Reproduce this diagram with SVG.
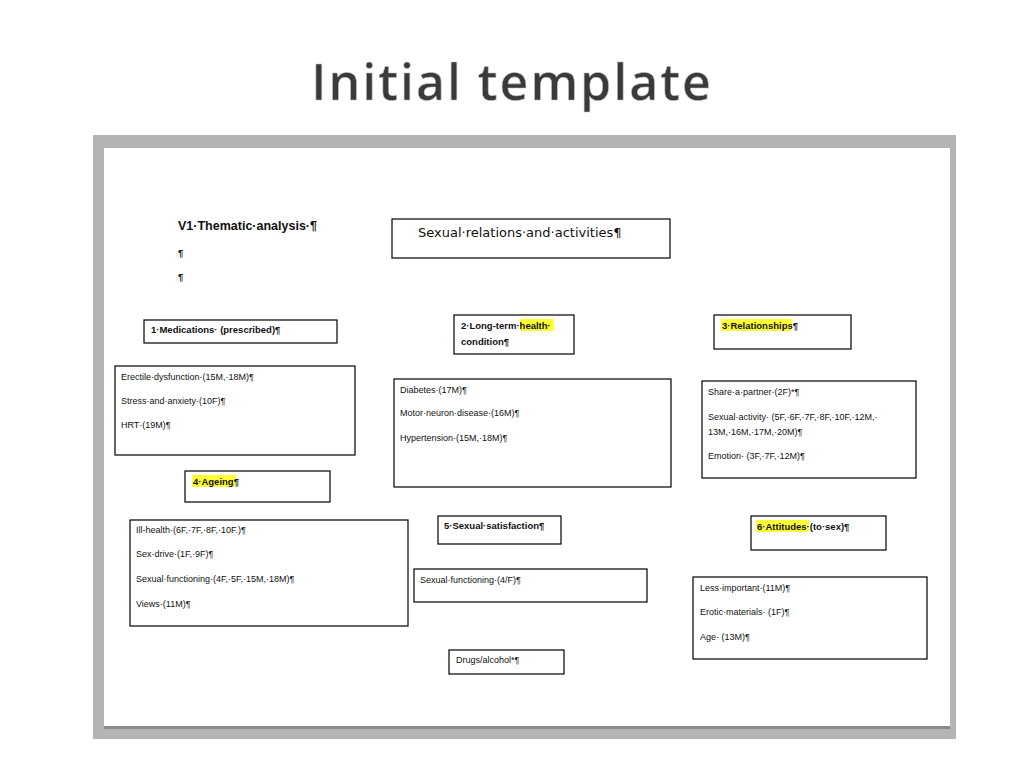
<svg xmlns="http://www.w3.org/2000/svg" width="1024" height="768" viewBox="0 0 1024 768">
<style>
.b{fill:#fff;stroke:#000;stroke-width:1.2}
.t{font-family:"Liberation Sans",Arial,sans-serif;font-size:9px;fill:#111}
.h{font-family:"Liberation Sans",Arial,sans-serif;font-size:9.5px;font-weight:bold;fill:#111}
.hl{fill:#ffff33}
</style>
<rect width="1024" height="768" fill="#fff"/>
<text x="512" y="100" text-anchor="middle" font-family="'Open Sans','DejaVu Sans',sans-serif" font-size="50" font-weight="600" fill="#3a3a3a" letter-spacing="2" stroke="#bbb" stroke-width="0.6">Initial template</text>
<rect x="93" y="135" width="863" height="604" fill="#b4b4b4"/>
<rect x="104" y="148" width="846" height="578" fill="#fff"/>
<rect x="104" y="726" width="846" height="3" fill="#8a8a8a"/>
<g id="header">
<text x="178" y="230" font-family="'Liberation Sans',Arial,sans-serif" font-size="12.5" font-weight="bold" fill="#111">V1·Thematic·analysis·¶</text>
<text x="178" y="256" class="h">¶</text>
<text x="178" y="280" class="h">¶</text>
</g>
<g id="connectors"></g>
<g id="title"><rect class="b" x="392" y="219" width="278" height="39"/><text x="418" y="237" font-family="'DejaVu Sans',sans-serif" font-size="13" fill="#111">Sexual·relations·and·activities¶</text></g>
<g id="n1"><rect class="b" x="144" y="320" width="193" height="23"/><text x="151" y="333" class="h">1·Medications· (prescribed)¶</text></g>
<g id="l1"><rect class="b" x="115" y="366" width="240" height="89"/>
<text x="121" y="380" class="t">Erectile·dysfunction·(15M,·18M)¶</text>
<text x="121" y="404" class="t">Stress·and·anxiety·(10F)¶</text>
<text x="121" y="428" class="t">HRT·(19M)¶</text></g>
<g id="n2"><rect class="b" x="454" y="315" width="120" height="39"/><rect class="hl" x="520" y="319" width="34" height="12"/><text x="461" y="329" class="h">2·Long-term·health·</text><text x="461" y="345" class="h">condition¶</text></g>
<g id="l2"><rect class="b" x="394" y="379" width="277" height="108"/>
<text x="400" y="393" class="t">Diabetes·(17M)¶</text>
<text x="400" y="416" class="t" font-size="10">Motor·neuron·disease·(16M)¶</text>
<text x="400" y="441" class="t">Hypertension·(15M,·18M)¶</text></g>
<g id="n3"><rect class="b" x="714" y="315" width="137" height="34"/><rect class="hl" x="721" y="319" width="71" height="12"/><text x="722" y="329" class="h">3·Relationships¶</text></g>
<g id="l3"><rect class="b" x="702" y="381" width="214" height="97"/>
<text x="708" y="395" class="t">Share·a·partner·(2F)*¶</text>
<text x="708" y="420" class="t">Sexual·activity· (5F,·6F,·7F,·8F,·10F,·12M,·</text>
<text x="708" y="435" class="t">13M,·16M,·17M,·20M)¶</text>
<text x="708" y="459" class="t">Emotion· (3F,·7F,·12M)¶</text></g>
<g id="n4"><rect class="b" x="185" y="471" width="145" height="31"/><rect class="hl" x="192" y="475" width="44" height="12"/><text x="193" y="485" class="h">4·Ageing¶</text></g>
<g id="l4"><rect class="b" x="130" y="520" width="278" height="106"/>
<text x="136" y="533" class="t">Ill-health·(6F,·7F,·8F,·10F.)¶</text>
<text x="136" y="557" class="t">Sex·drive·(1F,·9F)¶</text>
<text x="136" y="582" class="t">Sexual·functioning·(4F,·5F,·15M,·18M)¶</text>
<text x="136" y="607" class="t">Views·(11M)¶</text></g>
<g id="n5"><rect class="b" x="438" y="516" width="123" height="28"/><text x="444" y="529" class="h">5·Sexual·satisfaction¶</text></g>
<g id="l5"><rect class="b" x="414" y="569" width="233" height="33"/><text x="420" y="583" class="t">Sexual·functioning·(4/F)¶</text></g>
<g id="n6"><rect class="b" x="751" y="516" width="135" height="34"/><rect class="hl" x="756" y="520" width="53" height="12"/><text x="757" y="530" class="h">6·Attitudes·(to·sex)¶</text></g>
<g id="l6"><rect class="b" x="693" y="577" width="234" height="82"/>
<text x="700" y="591" class="t">Less·important·(11M)¶</text>
<text x="700" y="615" class="t">Erotic·materials· (1F)¶</text>
<text x="700" y="640" class="t">Age· (13M)¶</text></g>
<g id="n7"><rect class="b" x="449" y="650" width="115" height="24"/><text x="456" y="663" class="t">Drugs/alcohol*¶</text></g>
</svg>
